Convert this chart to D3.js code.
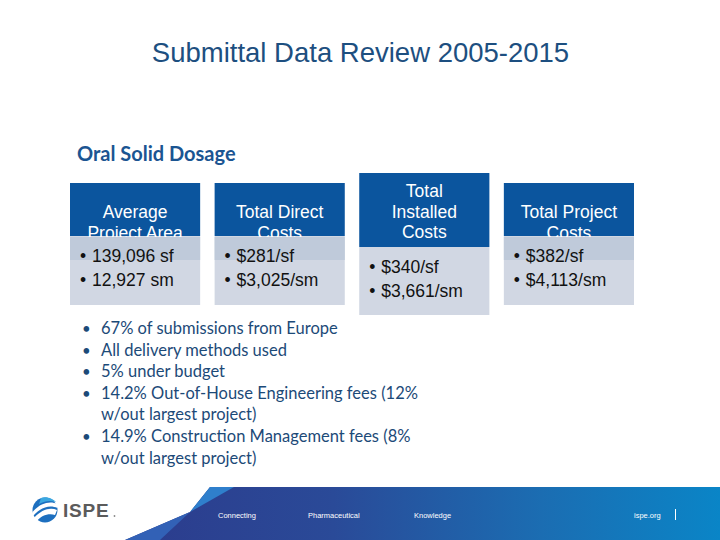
<!DOCTYPE html>
<html><head><meta charset="utf-8">
<script src="https://cdn.jsdelivr.net/npm/d3@7"></script>
<style>html,body{margin:0;padding:0;background:#fff;}svg{display:block;}</style>
</head><body>
<svg id="c" width="720" height="540"></svg>
<script>
const title = "Submittal Data Review 2005-2015";
const subtitle = "Oral Solid Dosage";
const categories = ["Average Project Area", "Total Direct Costs", "Total Installed Costs", "Total Project Costs"];
const headerLines = [["Average", "Project Area"], ["Total Direct", "Costs"], ["Total", "Installed", "Costs"], ["Total Project", "Costs"]];
const imperialValues = ["139,096 sf", "$281/sf", "$340/sf", "$382/sf"];
const metricValues = ["12,927 sm", "$3,025/sm", "$3,661/sm", "$4,113/sm"];
const notes = [["67% of submissions from Europe"], ["All delivery methods used"], ["5% under budget"],
  ["14.2% Out-of-House Engineering fees (12%", "w/out largest project)"],
  ["14.9% Construction Management fees (8%", "w/out largest project)"]];
const footerWords = ["Connecting", "Pharmaceutical", "Knowledge"];
const footerUrl = "ispe.org";

const svg = d3.select("#c");
const defs = svg.append("defs");

// Title
svg.append("text").attr("x", 360.5).attr("y", 62).attr("text-anchor", "middle")
  .attr("font-family", "Liberation Sans, Arial, sans-serif").attr("font-size", 27.5)
  .attr("fill", "#1d4f80").text(title);

svg.append("text").attr("x", 77).attr("y", 161)
  .attr("font-family", "Lato, sans-serif").attr("font-weight", "bold").attr("font-size", 20)
  .attr("fill", "#1b5592").text(subtitle);

// Boxes
const x = d3.scaleBand().domain(categories).range([70, 634]).paddingInner(0.1).paddingOuter(0);
const bw = x.bandwidth();
const font = "Liberation Sans, Arial, sans-serif";

categories.forEach((cat, i) => {
  const g = svg.append("g").attr("transform", `translate(${x(cat)},0)`);
  const tall = headerLines[i].length === 3;
  const top = tall ? 173 : 183;
  const hb = tall ? 247 : 236;
  const bottom = tall ? 315 : 305;
  g.append("rect").attr("x", 0).attr("y", hb).attr("width", bw).attr("height", bottom - hb).attr("fill", "#d1d7e3");
  g.append("rect").attr("x", 0).attr("y", top).attr("width", bw).attr("height", hb - top).attr("fill", "#0b559e");
  const lines = headerLines[i];
  const first = tall ? 197 : 218;
  lines.forEach((l, j) => {
    g.append("text").attr("x", bw / 2).attr("y", first + j * 20.5).attr("text-anchor", "middle")
      .attr("font-family", font).attr("font-size", 17.5).attr("fill", "#fff").text(l);
  });
  if (!tall) {
    g.append("rect").attr("x", 0).attr("y", 237).attr("width", bw).attr("height", 23).attr("fill", "#bfcada");
  }
  const b1 = tall ? 273 : 262;
  [imperialValues[i], metricValues[i]].forEach((v, j) => {
    g.append("text").attr("x", 10).attr("y", b1 + j * 24)
      .attr("font-family", font).attr("font-size", 17.5).attr("fill", "#111").text("•");
    g.append("text").attr("x", 22).attr("y", b1 + j * 24)
      .attr("font-family", font).attr("font-size", 17.5).attr("fill", "#111").text(v);
  });
});

// Notes
let ny = 334;
const ls = 21.6;
notes.forEach(n => {
  svg.append("text").attr("x", 82).attr("y", ny).attr("font-family", "Lato, sans-serif")
    .attr("font-size", 15).attr("fill", "#1c4a78").text("•");
  n.forEach((l, j) => {
    svg.append("text").attr("x", 101).attr("y", ny + j * ls).attr("font-family", "Lato, sans-serif")
      .attr("font-size", 16.5).attr("fill", "#1c4a78").text(l);
  });
  ny += n.length * ls;
});

// Footer
const grad = defs.append("linearGradient").attr("id", "fg").attr("x1", 0).attr("x2", 1).attr("y1", 0).attr("y2", 0);
grad.append("stop").attr("offset", "0%").attr("stop-color", "#2c3b8c");
grad.append("stop").attr("offset", "35%").attr("stop-color", "#2a4a98");
grad.append("stop").attr("offset", "70%").attr("stop-color", "#1b6db2");
grad.append("stop").attr("offset", "100%").attr("stop-color", "#0a85c7");
svg.append("path").attr("d", "M210,487 L720,487 L720,540 L125,540 L190,512 Z").attr("fill", "url(#fg)");
svg.append("path").attr("d", "M210,487 L234,487 L190,512 Z").attr("fill", "#2f7fcc");
svg.append("path").attr("d", "M190,512 L125,540 L160,540 Z").attr("fill", "#3261b6");
const fx = [218, 308, 414];
footerWords.forEach((w, i) => {
  svg.append("text").attr("x", fx[i]).attr("y", 518).attr("font-family", "Liberation Sans, Arial, sans-serif")
    .attr("font-size", 7.5).attr("fill", "#fff").text(w);
});
svg.append("text").attr("x", 634).attr("y", 518).attr("font-family", "Liberation Sans, Arial, sans-serif")
  .attr("font-size", 7.5).attr("fill", "#fff").text(footerUrl);
svg.append("line").attr("x1", 675.5).attr("x2", 675.5).attr("y1", 509).attr("y2", 520).attr("stroke", "#fff").attr("stroke-width", 1);

// Logo
const lg = svg.append("g").attr("transform", "translate(45,510)");
lg.append("circle").attr("r", 12.5).attr("fill", "#1d6fbf");
lg.append("path").attr("d", "M-12.5,2 C-6,-6 4,-10 12.5,-6 L12.5,-2 C4,-6 -5,-2 -12,6 Z").attr("fill", "#fff");
lg.append("path").attr("d", "M-11,8 C-4,0 5,-3 12,0 L10,5 C3,3 -4,6 -8,11 Z").attr("fill", "#fff");
lg.append("path").attr("d", "M-4,-12 C2,-14 8,-11 11,-8 C5,-10 0,-9 -6,-6 Z").attr("fill", "#3aa7e0");
svg.append("text").attr("x", 63).attr("y", 517).attr("font-family", "Liberation Sans, Arial, sans-serif")
  .attr("font-weight", "bold").attr("font-size", 19).attr("letter-spacing", 0.8).attr("fill", "#5b5b5b").text("ISPE");
svg.append("circle").attr("cx", 114.5).attr("cy", 516).attr("r", 0.9).attr("fill", "#888");
</script>
</body></html>
